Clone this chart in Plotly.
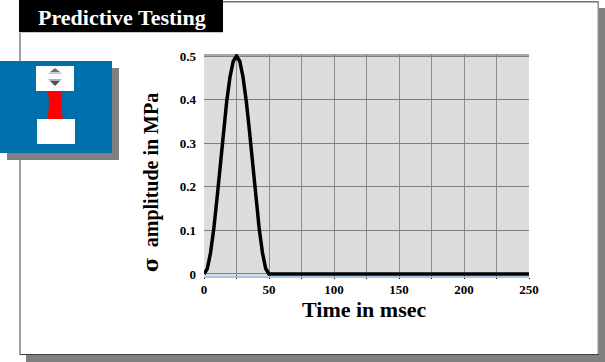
import plotly.graph_objects as go

time_ms = [0, 2.5, 5, 7.5, 10, 12.5, 15, 17.5, 20, 22.5, 25, 27.5, 30, 32.5, 35, 37.5, 40, 42.5, 45, 47.5, 50, 250]
sigma = [0, 0.012, 0.048, 0.103, 0.173, 0.25, 0.327, 0.397, 0.452, 0.488, 0.5, 0.488, 0.452, 0.397, 0.327, 0.25, 0.173, 0.103, 0.048, 0.012, 0, 0]
x_ticks = [0, 50, 100, 150, 200, 250]
y_ticks = [0, 0.1, 0.2, 0.3, 0.4, 0.5]
y_labels = ["0", "0.1", "0.2", "0.3", "0.4", "0.5"]

W, H = 605, 362
L, R, T, B = 204, 529, 54, 277
SERIF = "Liberation Serif"


def px(x):
    return (x - L) / (R - L)


def py(y):
    return (B - y) / (B - T)


def rect(x0, y0, x1, y1, fill):
    return dict(type="rect", xref="paper", yref="paper", x0=px(x0), x1=px(x1), y0=py(y1), y1=py(y0),
                fillcolor=fill, line=dict(width=0), layer="below")


def poly(points, fill):
    d = "M " + " L ".join(f"{px(a):.5f},{py(b):.5f}" for a, b in points) + " Z"
    return dict(type="path", xref="paper", yref="paper", path=d, fillcolor=fill, line=dict(width=0), layer="below")


shapes = [
    rect(26, 8, 605, 362, "#808080"),        # slide shadow
    rect(19, 1, 599, 355, "#FFFFFF"),        # slide
    rect(19, 1, 599, 2.5, "#707070"),
    rect(19, 1, 21, 355, "#A0A0A0"),
    rect(597.5, 1, 599, 355, "#909090"),
    rect(20, 354, 599, 355, "#404040"),
    rect(19, 0, 223, 32, "#000000"),         # title box
    rect(19, 32, 223, 33, "#C8C8C8"),
    rect(7, 68, 119, 160, "#808080"),        # icon shadow
    rect(0, 61, 112, 153, "#0070AD"),        # icon
    rect(36, 66, 74, 91, "#FFFFFF"),
    rect(37, 119, 75, 144, "#FFFFFF"),
    poly([(47.5, 91), (62, 91), (61, 100), (61.5, 110), (63, 119), (47, 119), (48.5, 110), (49, 100)], "#FF0000"),
    poly([(55, 68), (50, 72), (60, 72)], "#707070"),
    poly([(50, 72), (60, 72), (62, 74), (48, 74)], "#C8C8C8"),
    poly([(48, 79), (62, 79), (60, 81), (50, 81)], "#B0B0B0"),
    poly([(50, 81), (60, 81), (55, 86)], "#505050"),
    rect(L, T, R, B, "#DDDDDD"),             # plot area
    rect(L, T, R, T + 2, "#A8A8A8"),
    rect(L, 276, R, 278, "#A9C8E6"),
]

fig = go.Figure()
fig.add_trace(go.Scatter(x=time_ms, y=sigma, mode="lines", line=dict(color="#000000", width=3.5), hoverinfo="skip"))

fig.update_layout(
    width=W, height=H, autosize=False, showlegend=False,
    margin=dict(l=L, r=W - R, t=T, b=H - B, pad=0),
    paper_bgcolor="#FFFFFF", plot_bgcolor="rgba(0,0,0,0)",
    font=dict(family=SERIF, color="#000000"),
    shapes=shapes,
    annotations=[
        dict(text="<b>Predictive Testing</b>", xref="paper", yref="paper", x=px(121.5), y=py(18), showarrow=False,
             xanchor="center", yanchor="middle", font=dict(family=SERIF, size=22, color="#FFFFFF")),
        dict(text="<b>Time in msec</b>", xref="paper", yref="paper", x=px(364), y=py(309), showarrow=False,
             xanchor="center", yanchor="middle", font=dict(family=SERIF, size=22)),
        dict(text="<b><span style=\"font-family:'DejaVu Serif'\">σ</span>  amplitude in MPa</b>", xref="paper", yref="paper",
             x=px(151), y=py(183), showarrow=False, textangle=-90,
             xanchor="center", yanchor="middle", font=dict(family=SERIF, size=20)),
    ],
)
fig.update_xaxes(
    range=[0, 250], tickvals=x_ticks, ticktext=[f"<b>{v}</b>" for v in x_ticks],
    tickfont=dict(family=SERIF, size=13), ticks="outside", ticklen=1, tickcolor="#000000",
    ticklabelstandoff=-1,
    showgrid=True, gridcolor="#8C8C8C", gridwidth=1, zeroline=False, showline=False,
    minor=dict(tickvals=[25, 75, 125, 175, 225], showgrid=True, gridcolor="#8C8C8C", gridwidth=1,
               ticks="outside", ticklen=1, tickcolor="#000000"),
)
fig.update_yaxes(
    range=[-0.0069, 0.5046], tickvals=y_ticks, ticktext=[f"<b>{v}</b>" for v in y_labels],
    tickfont=dict(family=SERIF, size=13), ticks="", ticklabelstandoff=7,
    showgrid=True, gridcolor="#808080", gridwidth=1, zeroline=False, showline=False,
)
fig.write_html("out.html", config={"displayModeBar": False},
               post_script="document.body.style.margin='0';document.documentElement.style.overflow='hidden';")
